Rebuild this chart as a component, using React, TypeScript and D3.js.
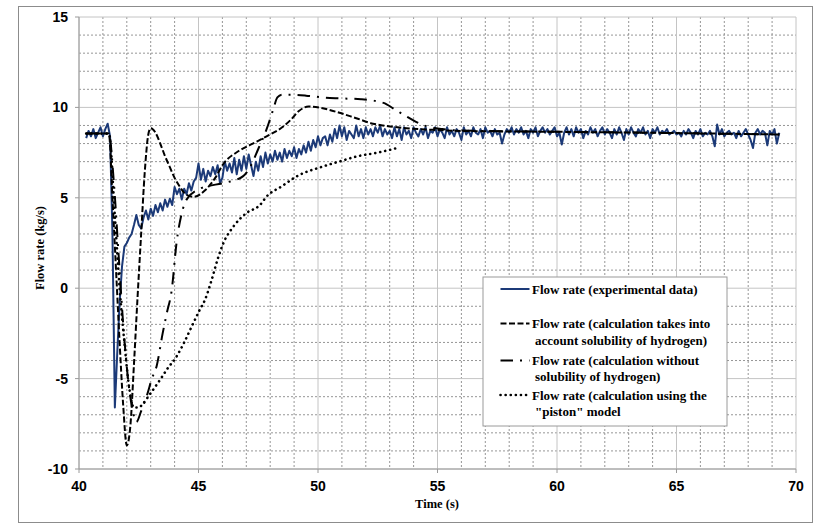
import React from "react";
import * as d3 from "d3";

// ---- data ----
const xTicks = [40, 45, 50, 55, 60, 65, 70];
const yTicks = [-10, -5, 0, 5, 10, 15];

// experimental data sampled every 0.1 s starting at 40.3 s
const expStart = 40.3;
const expStep = 0.1;
const expValues = [
  8.3, 8.7, 8.4, 8.8, 8.3, 8.6, 8.9, 8.4, 8.8, 9.1,
  8.4, 3.0, -6.6, -3.6, -0.8, 1.2, 2.3, 2.5, 2.8, 3.0,
  3.5, 4.05, 3.5, 3.3, 3.9, 4.3, 3.8, 4.4, 4.0, 4.6,
  4.2, 4.7, 4.3, 4.9, 4.5, 4.95, 4.6, 5.6, 5.2, 5.5,
  4.9, 5.5, 5.2, 5.8, 5.4, 5.9, 6.1, 6.9, 6.0, 6.6,
  5.9, 6.5, 6.2, 6.7, 6.3, 6.8, 5.8, 6.1, 7.0, 6.5,
  6.9, 6.4, 7.2, 6.3, 7.1, 6.5, 7.3, 6.6, 7.4, 6.8,
  6.2, 7.0, 6.5, 7.3, 6.7, 7.5, 6.9, 7.4, 7.0, 7.6,
  7.1, 7.5, 7.0, 7.7, 7.2, 7.6, 7.3, 7.8, 7.2, 7.7,
  7.4, 7.9, 7.5, 8.1, 7.6, 8.2, 7.8, 8.4, 7.9, 8.3,
  8.4, 7.9, 8.5, 8.1, 8.8, 8.3, 9.0, 8.4, 8.9, 8.2,
  8.7, 8.5, 8.3, 9.0, 8.4, 8.8, 8.3, 8.9, 8.5, 8.8,
  8.4, 8.9, 8.6, 9.0, 8.4, 8.8, 8.5, 8.7, 8.3, 8.9,
  8.4, 8.8, 8.2, 8.9, 8.5, 8.7, 8.3, 8.9, 8.6, 8.4,
  8.8, 8.5, 8.9, 8.3, 8.7, 8.6, 8.9, 8.4, 8.8, 8.6,
  8.3, 8.9, 8.5, 8.7, 8.4, 8.8, 8.6, 8.2, 8.9, 8.5,
  8.7, 8.4, 8.9, 8.6, 8.5, 8.8, 8.3, 8.9, 8.6, 8.7,
  8.4, 8.8, 8.5, 8.6, 8.0, 8.5, 8.8, 8.6, 8.9, 8.5,
  8.8, 8.6, 8.9, 8.5, 8.7, 8.3, 8.8, 8.6, 8.9, 8.4,
  8.7, 8.9, 8.6, 8.8, 8.5, 8.7, 8.9, 8.4, 8.6, 7.95,
  8.6, 8.9, 8.5, 8.8, 8.4, 8.9, 8.6, 8.8, 8.3, 8.7,
  8.5, 8.9, 8.6, 8.8, 8.4, 8.7, 8.9, 8.5, 8.8, 8.6,
  8.3, 8.8, 8.5, 8.9, 8.6, 8.2, 8.8, 8.5, 8.9, 8.6,
  8.4, 8.8, 8.6, 8.9, 8.5, 8.7, 8.3, 8.8, 8.6, 8.9,
  8.5, 8.7, 8.6, 8.8, 8.5, 8.6, 8.7, 8.5, 8.6, 8.4,
  8.7, 8.5, 8.8, 8.6, 8.3, 8.7, 8.5, 8.8, 8.4, 8.6,
  8.5, 8.7, 8.4, 7.85, 9.05, 8.5, 8.8, 8.4, 8.6, 8.7,
  8.5, 8.6, 8.3, 8.7, 8.4, 8.6, 8.8, 8.5, 8.2, 7.75,
  8.6, 8.8, 8.5, 8.7, 8.6, 7.9, 8.7, 8.5, 8.8, 8.0,
  8.6,
];

// calculation with solubility of hydrogen (dashed)
const solTimes = [40.3, 41.25, 41.4, 41.55, 41.7, 41.85, 42.0, 42.15, 42.3, 42.45, 42.6, 42.75, 42.9, 43.0, 43.2, 43.4, 43.6, 43.8, 44.0, 44.2, 44.5, 44.8, 45.3, 45.7, 46.0, 46.7, 47.2, 47.85, 48.5, 48.85, 49.2, 49.6, 50.2, 50.9, 51.6, 52.3, 53.0, 53.7, 54.8, 56.0, 60.0, 65.0, 69.3];
const solValues = [8.55, 8.55, 5.0, 1.0, -3.0, -6.5, -8.7, -7.6, -4.2, -0.5, 3.0, 6.4, 8.5, 8.85, 8.6, 8.0, 7.3, 6.7, 6.1, 5.65, 5.16, 5.05, 5.45, 6.1, 6.8, 7.6, 7.95, 8.4, 8.9, 9.3, 9.8, 10.05, 9.95, 9.7, 9.4, 9.1, 8.95, 8.85, 8.76, 8.7, 8.65, 8.58, 8.5];

// calculation without solubility of hydrogen (dash-dot)
const noSolTimes = [40.3, 41.25, 41.45, 41.65, 41.85, 42.05, 42.25, 42.4, 42.6, 42.85, 43.05, 43.25, 43.5, 43.67, 43.88, 44.08, 44.3, 44.5, 45.06, 45.6, 46.18, 46.87, 47.2, 47.5, 47.85, 48.13, 48.3, 48.5, 48.83, 49.5, 50.2, 50.9, 51.8, 52.74, 53.2, 53.7, 54.1, 54.55, 55.2, 56.0, 60.0, 65.0, 69.3];
const noSolValues = [8.55, 8.55, 6.0, 2.0, -2.0, -5.0, -6.8, -7.4, -6.8, -5.9, -5.0, -4.3, -2.5, -1.4, -0.1, 2.5, 4.15, 4.9, 5.5, 5.7, 5.85, 6.2, 6.8, 7.7, 8.8, 9.9, 10.55, 10.7, 10.7, 10.65, 10.55, 10.5, 10.45, 10.25, 9.9, 9.5, 9.2, 8.95, 8.8, 8.72, 8.65, 8.58, 8.5];

// "piston" model (dotted)
const pistonTimes = [40.3, 41.25, 41.5, 41.7, 41.9, 42.1, 42.3, 42.5, 42.69, 43.0, 43.39, 43.7, 44.08, 44.4, 44.78, 45.05, 45.27, 45.55, 45.8, 46.04, 46.46, 47.0, 47.57, 47.85, 48.5, 49.1, 50.2, 51.0, 51.6, 52.5, 53.3];
const pistonValues = [8.55, 8.55, 4.0, 0.0, -3.0, -5.5, -6.6, -6.6, -6.36, -5.8, -5.07, -4.45, -3.78, -3.0, -1.94, -1.2, -0.65, 0.46, 1.6, 2.49, 3.41, 4.15, 4.6, 5.07, 5.65, 6.18, 6.73, 7.05, 7.28, 7.5, 7.75];

const legendItems = [
  { lines: ["Flow rate (experimental data)"], style: "exp" },
  { lines: ["Flow rate (calculation takes into", "account solubility of hydrogen)"], style: "sol" },
  { lines: ["Flow rate (calculation without", "solubility of hydrogen)"], style: "nosol" },
  { lines: ["Flow rate (calculation using the", "\"piston\" model"], style: "piston" },
];

// ---- styles ----
const BLUE = "#1c3a78";
const styles: Record<string, any> = {
  exp: { stroke: BLUE, strokeWidth: 2, dash: undefined, cap: "butt" },
  sol: { stroke: "#000", strokeWidth: 2, dash: "6,2.5", cap: "butt" },
  nosol: { stroke: "#000", strokeWidth: 2, dash: "12.5,7,2,7", cap: "butt" },
  piston: { stroke: "#000", strokeWidth: 2.6, dash: "0.1,5", cap: "round" },
};

export default function App() {
  const W = 814, H = 524;
  const x = d3.scaleLinear().domain([40, 70]).range([79, 796]);
  const y = d3.scaleLinear().domain([-10, 15]).range([469, 17]);

  const minorX = d3.range(40, 71, 1).filter((v) => v % 5 !== 0);
  const minorY = d3.range(-10, 16, 1).filter((v) => v % 5 !== 0);

  const expData: [number, number][] = expValues.map((v, i) => [expStart + i * expStep, v]);
  const zip = (ts: number[], vs: number[]) => ts.map((t, i) => [t, vs[i]] as [number, number]);

  const lin = d3.line<[number, number]>().x((d) => x(d[0])).y((d) => y(d[1]));
  const smooth = d3
    .line<[number, number]>()
    .x((d) => x(d[0]))
    .y((d) => y(d[1]))
    .curve(d3.curveMonotoneX);

  const series = [
    { key: "exp", d: lin(expData) },
    { key: "sol", d: smooth(zip(solTimes, solValues)) },
    { key: "nosol", d: smooth(zip(noSolTimes, noSolValues)) },
    { key: "piston", d: smooth(zip(pistonTimes, pistonValues)) },
  ];

  const tickFont = "'Liberation Sans Narrow', 'Liberation Sans', Arial, sans-serif";
  const serif = "'Liberation Serif', 'Times New Roman', serif";

  const legendBaselines = [[293.5], [328, 344.5], [365, 381], [399.5, 415.5]];

  return (
    <svg width={W} height={H} style={{ display: "block", position: "absolute", left: 0, top: 0 }}>
      <rect x={0} y={0} width={W} height={H} fill="#fff" />
      <rect x={18.5} y={6.5} width={794} height={516} fill="none" stroke="#8c8c8c" strokeWidth={1} />

      {/* minor grid */}
      {minorX.map((v) => (
        <line key={"mx" + v} x1={x(v)} x2={x(v)} y1={y(15)} y2={y(-10)} stroke="#8a8a8a" strokeWidth={0.9} strokeDasharray="2,2" />
      ))}
      {minorY.map((v) => (
        <line key={"my" + v} x1={x(40)} x2={x(70)} y1={y(v)} y2={y(v)} stroke="#8a8a8a" strokeWidth={0.9} strokeDasharray="2,2" />
      ))}
      {/* major grid */}
      {xTicks.map((v) => (
        <line key={"Mx" + v} x1={x(v)} x2={x(v)} y1={y(15)} y2={y(-10)} stroke="#c4c4c4" strokeWidth={1} />
      ))}
      {yTicks.map((v) => (
        <line key={"My" + v} x1={x(40)} x2={x(70)} y1={y(v)} y2={y(v)} stroke="#c4c4c4" strokeWidth={1} />
      ))}
      {/* axes */}
      <line x1={x(40)} x2={x(40)} y1={y(15)} y2={y(-10)} stroke="#9a9a9a" strokeWidth={1} />
      <line x1={x(40)} x2={x(70)} y1={y(-10)} y2={y(-10)} stroke="#9a9a9a" strokeWidth={1} />
      {xTicks.map((v) => (
        <line key={"tx" + v} x1={x(v)} x2={x(v)} y1={y(-10)} y2={y(-10) + 4} stroke="#9a9a9a" />
      ))}
      {yTicks.map((v) => (
        <line key={"ty" + v} x1={x(40) - 4} x2={x(40)} y1={y(v)} y2={y(v)} stroke="#9a9a9a" />
      ))}

      {/* tick labels */}
      {xTicks.map((v) => (
        <text key={"lx" + v} x={x(v)} y={y(-10) + 22} textAnchor="middle" fontFamily={tickFont} fontWeight="bold" fontSize={14} fill="#000">
          {v}
        </text>
      ))}
      {yTicks.map((v) => (
        <text key={"ly" + v} x={x(40) - 11} y={y(v) + 5} textAnchor="end" fontFamily={tickFont} fontWeight="bold" fontSize={14} fill="#000">
          {v}
        </text>
      ))}

      {/* axis titles */}
      <text x={437} y={508} textAnchor="middle" fontFamily={serif} fontWeight="bold" fontSize={12.5}>
        Time (s)
      </text>
      <text transform="translate(44,248) rotate(-90)" textAnchor="middle" fontFamily={serif} fontWeight="bold" fontSize={12.5}>
        Flow rate (kg/s)
      </text>

      {/* series */}
      {series.map((s) => {
        const st = styles[s.key];
        return (
          <path key={s.key} d={s.d || ""} fill="none" stroke={st.stroke} strokeWidth={st.strokeWidth} strokeDasharray={st.dash} strokeLinecap={st.cap} strokeLinejoin="round" />
        );
      })}

      {/* legend */}
      <rect x={483} y={277} width={244} height={149} fill="#fff" stroke="#9a9a9a" strokeWidth={1} />
      {legendItems.map((item, i) => {
        const st = styles[item.style];
        const by = legendBaselines[i];
        const cy = by[0] - 4.5;
        return (
          <g key={i}>
            <line x1={500.5} x2={529.5} y1={cy} y2={cy} stroke={st.stroke} strokeWidth={st.strokeWidth} strokeDasharray={st.dash} strokeLinecap={st.cap} />
            {item.lines.map((ln, j) => (
              <text key={j} x={j === 0 ? 532 : 535} y={by[j]} fontFamily={serif} fontWeight="bold" fontSize={13} fill="#000">
                {ln}
              </text>
            ))}
          </g>
        );
      })}
    </svg>
  );
}
